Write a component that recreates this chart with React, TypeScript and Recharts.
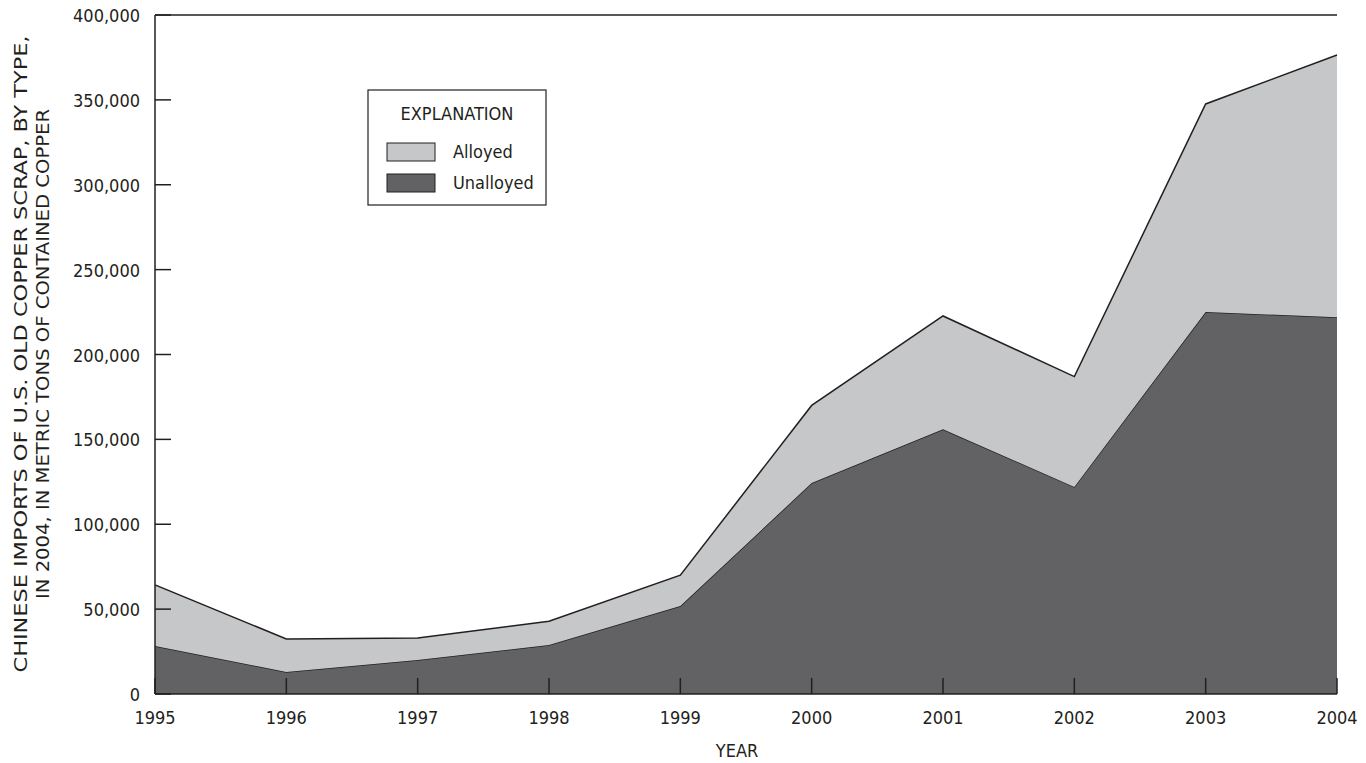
import { Area, AreaChart, Customized, ReferenceLine, XAxis, YAxis } from 'recharts';

const years = [1995, 1996, 1997, 1998, 1999, 2000, 2001, 2002, 2003, 2004];
const unalloyed = [28300, 13000, 20000, 28900, 51800, 124300, 156000, 122000, 225000, 222000];
const alloyed = [36000, 19400, 13000, 14000, 18200, 45700, 66700, 65000, 122600, 154400];
const yTicks = [0, 50000, 100000, 150000, 200000, 250000, 300000, 350000, 400000];

const FONT = '"DejaVu Sans Condensed", "Liberation Sans Narrow", sans-serif';
const INK = '#231f20';
const LIGHT = '#c6c7c9';
const DARK = '#626264';

const data = years.map((year, i) => ({
  year,
  unalloyed: unalloyed[i],
  alloyed: alloyed[i],
}));

const fmt = (v: number) => v.toLocaleString('en-US');

function XTick(props: any) {
  const { x, y, payload } = props;
  return (
    <g>
      <line x1={x} y1={y} x2={x} y2={y - 16} stroke={INK} strokeWidth={1.5} />
      <text x={x} y={y + 30} textAnchor="middle" fontFamily={FONT} fontSize={18} fill={INK}>
        {payload.value}
      </text>
    </g>
  );
}

function YTickLeft(props: any) {
  const { x, y, payload } = props;
  return (
    <g>
      <line x1={x} y1={y} x2={x + 16} y2={y} stroke={INK} strokeWidth={1.5} />
      <text x={x - 15} y={y + 7} textAnchor="end" fontFamily={FONT} fontSize={18} fill={INK}>
        {fmt(payload.value)}
      </text>
    </g>
  );
}

function YTickRight(props: any) {
  const { x, y } = props;
  return <line x1={x} y1={y} x2={x - 16} y2={y} stroke={INK} strokeWidth={1.5} />;
}

function Legend() {
  return (
    <g fontFamily={FONT} fill={INK}>
      <rect x={368} y={90} width={178} height={115} fill="#fff" stroke={INK} strokeWidth={1.2} />
      <text x={457} y={120} textAnchor="middle" fontSize={18}>EXPLANATION</text>
      <rect x={387} y={143} width={48} height={18} fill={LIGHT} stroke={INK} strokeWidth={1} />
      <text x={453} y={158} fontSize={18}>Alloyed</text>
      <rect x={387} y={174} width={48} height={18} fill={DARK} stroke={INK} strokeWidth={1} />
      <text x={453} y={189} fontSize={18}>Unalloyed</text>
    </g>
  );
}

function Titles() {
  return (
    <g fontFamily={FONT} fontSize={18} fill={INK}>
      <text x={737} y={757} textAnchor="middle">YEAR</text>
      <text
        x={27}
        y={354}
        textAnchor="middle"
        textLength={637}
        lengthAdjust="spacingAndGlyphs"
        transform="rotate(-90 27 354)"
      >
        CHINESE IMPORTS OF U.S. OLD COPPER SCRAP, BY TYPE,
      </text>
      <text
        x={49}
        y={354}
        textAnchor="middle"
        textLength={490}
        lengthAdjust="spacingAndGlyphs"
        transform="rotate(-90 49 354)"
      >
        IN 2004, IN METRIC TONS OF CONTAINED COPPER
      </text>
    </g>
  );
}

export default function App() {
  return (
    <div style={{ position: 'absolute', left: 0, top: 0 }}>
      <AreaChart
        width={1366}
        height={763}
        data={data}
        margin={{ top: 15, right: 29, bottom: 0, left: 0 }}
      >
        <XAxis
          dataKey="year"
          type="number"
          domain={[1995, 2004]}
          ticks={years}
          interval={0}
          height={69}
          tickSize={0}
          tickMargin={0}
          tick={<XTick />}
          axisLine={{ stroke: INK, strokeWidth: 1.5 }}
          tickLine={false}
        />
        <YAxis
          yAxisId="left"
          domain={[0, 400000]}
          ticks={yTicks}
          interval={0}
          width={155}
          tickSize={0}
          tickMargin={0}
          tick={<YTickLeft />}
          axisLine={{ stroke: INK, strokeWidth: 1.5 }}
          tickLine={false}
        />
        <YAxis
          yAxisId="right"
          orientation="right"
          domain={[0, 400000]}
          ticks={yTicks}
          interval={0}
          width={0}
          tickSize={0}
          tickMargin={0}
          tick={<YTickRight />}
          axisLine={{ stroke: INK, strokeWidth: 1.5 }}
          tickLine={false}
        />
        <Area
          yAxisId="left"
          type="linear"
          dataKey="unalloyed"
          stackId="a"
          fill={DARK}
          fillOpacity={1}
          stroke={INK}
          strokeWidth={1.5}
          isAnimationActive={false}
        />
        <Area
          yAxisId="left"
          type="linear"
          dataKey="alloyed"
          stackId="a"
          fill={LIGHT}
          fillOpacity={1}
          stroke={INK}
          strokeWidth={1.5}
          isAnimationActive={false}
        />
        <ReferenceLine yAxisId="left" y={400000} stroke={INK} strokeWidth={1.5} />
        <Customized component={<Legend />} />
        <Customized component={<Titles />} />
      </AreaChart>
    </div>
  );
}
